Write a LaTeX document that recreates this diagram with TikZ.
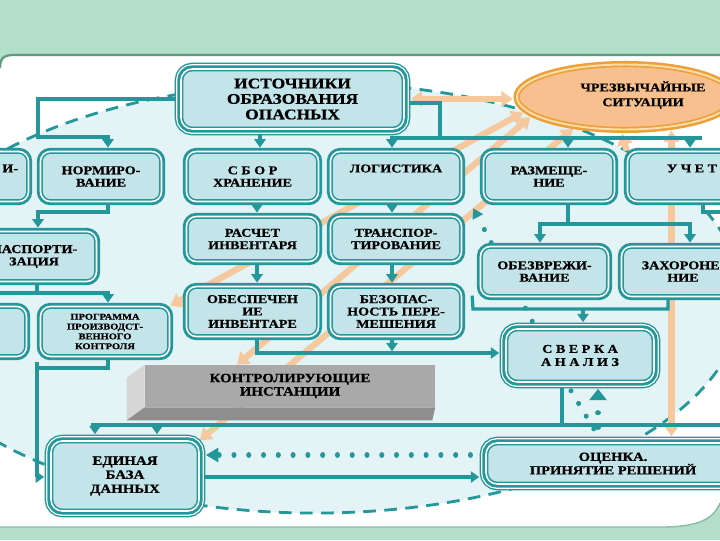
\documentclass[tikz,border=0pt]{standalone}
\usepackage{fontspec}
\setmainfont{Liberation Serif}
\newfontfamily\wf{Liberation Serif Bold}[FakeStretch=1.18, FakeBold=0.8]
\usetikzlibrary{shapes.geometric,arrows.meta,calc}
\pgfdeclarelayer{bg}
\pgfdeclarelayer{mid}
\pgfsetlayers{bg,mid,main}
\definecolor{teal0}{HTML}{23979A}
\definecolor{boxfill}{HTML}{C3E4E9}
\definecolor{bgblue}{HTML}{E4F3F5}
\definecolor{band}{HTML}{B3DEC9}
\definecolor{bandline}{HTML}{5E9A82}
\definecolor{peach}{HTML}{F6C89E}
\definecolor{ellfill}{HTML}{F8C08E}
\definecolor{ellline}{HTML}{EDA03A}
\definecolor{ellring}{HTML}{FBDDA8}
\definecolor{greyF}{HTML}{A9A9A9}
\definecolor{greyL}{HTML}{D6D6D6}
\definecolor{greyB}{HTML}{8E8E8E}
\tikzset{
  sz/.style 2 args={minimum width=#1*0.025cm, minimum height=#2*0.025cm},
  tl/.style={draw=teal0, line width=2.3pt, line cap=rect},
  tarr/.style={draw=teal0, line width=2.3pt, -{Triangle[width=8pt,length=6pt]}, shorten >=2.2pt},
  tarrb/.style={tarr, shorten >=4.3pt},
  boxst/.style={rounded corners=7pt, fill=boxfill, draw=teal0, line width=1.1pt,
    double=white, double distance=1.1pt, preaction={draw=teal0, line width=5.2pt},
    font=\wf\fontsize{8.5}{8.8}\selectfont, align=center, inner sep=0pt, text=black},
  bigbox/.style={rounded corners=8pt, fill=boxfill, draw=teal0, line width=1.1pt,
    double=white, double distance=1.1pt,
    preaction={draw=teal0, line width=9pt}, preaction={draw=white, line width=7pt},
    preaction={draw=teal0, line width=5.2pt},
    font=\wf\fontsize{8.8}{9.6}\selectfont, align=center, inner sep=0pt, text=black},
  orng/.style={draw=peach, line width=4.5pt, {Triangle[width=11pt,length=8pt]}-{Triangle[width=11pt,length=8pt]}},
  orng1/.style={draw=peach, line width=4.5pt, -{Triangle[width=11pt,length=8pt]}},
  dotl/.style={draw=teal0, line width=3.6pt, line cap=round, dash pattern=on 0.01pt off 10.5pt},
  dsh/.style={draw=teal0, line width=2pt, dash pattern=on 9pt off 6pt},
}
\begin{document}
\begin{tikzpicture}[x=0.025cm, y=-0.025cm]
\useasboundingbox (0,0) rectangle (720,540);

% ---------- nodes ----------
\node[bigbox, sz={223}{60}, font=\wf\fontsize{10.5}{11}\selectfont] (ist) at (292.5,99) {ИСТОЧНИКИ\\ОБРАЗОВАНИЯ\\ОПАСНЫХ};
\node[ellipse, minimum width=5.4cm, minimum height=1.625cm, fill=ellfill, draw=ellline, line width=1.2pt,
  double=ellring, double distance=1.4pt, preaction={draw=ellline, line width=5pt}, inner sep=0pt] (cs) at (625,97) {};
\node[font=\wf\fontsize{8.5}{10.5}\selectfont, align=center, inner sep=0pt, text=black] (cst) at (643,95) {ЧРЕЗВЫЧАЙНЫЕ\\СИТУАЦИИ};

\node[boxst, sz={125}{50}, text width=2.6cm, align=right] (izl) at (-34,176.5) {И-\\\strut};
\node[boxst, sz={121}{50}] (norm) at (101,176.5) {НОРМИРО-\\ВАНИЕ};
\node[boxst, sz={132}{50}] (sbor) at (252.5,176.5) {С Б О Р\\ХРАНЕНИЕ};
\node[boxst, sz={131}{50}] (logi) at (396,176.5) {ЛОГИСТИКА\\\strut};
\node[boxst, sz={131}{50}] (razm) at (549,176.5) {РАЗМЕЩЕ-\\НИЕ};
\node[boxst, sz={129}{50}] (uchet) at (692,176.5) {У Ч Е Т\\\strut};

\node[boxst, sz={125}{50}] (pasp) at (34,256.5) {ПАСПОРТИ-\\ЗАЦИЯ};
\node[boxst, sz={132}{45}] (rasch) at (252.5,239) {РАСЧЕТ\\ИНВЕНТАРЯ};
\node[boxst, sz={131}{45}] (trans) at (396,239) {ТРАНСПОР-\\ТИРОВАНИЕ};
\node[boxst, sz={128}{50}] (obez) at (544.5,271.5) {ОБЕЗВРЕЖИ-\\ВАНИЕ};
\node[boxst, sz={123}{50}] (zah) at (683,271.5) {ЗАХОРОНЕ-\\НИЕ};

\node[boxst, sz={123}{50}] (lbot) at (-35,331.5) {};
\node[boxst, sz={129}{50}, font=\wf\fontsize{6.3}{7}\selectfont] (prog) at (105,331.5) {ПРОГРАММА\\ПРОИЗВОДСТ-\\ВЕННОГО\\КОНТРОЛЯ};
\node[boxst, sz={132}{50}] (obesp) at (252.5,311.5) {ОБЕСПЕЧЕН\\ИЕ\\ИНВЕНТАРЕ};
\node[boxst, sz={131}{50}] (bezop) at (396,311.5) {БЕЗОПАС-\\НОСТЬ ПЕРЕ-\\МЕШЕНИЯ};
\node[bigbox, sz={148}{53}, font=\wf\fontsize{8.5}{9.3}\selectfont] (sverka) at (580,355.5) {С В Е Р К А\\А Н А Л И З};

\node[fill=greyF, sz={290}{42}, inner sep=0pt, align=center, text=black,
  font=\wf\fontsize{9}{9.5}\selectfont] (ctrl) at (290,386) {КОНТРОЛИРУЮЩИЕ\\ИНСТАНЦИИ};
\fill[greyL] (ctrl.north west) -- ++(-18,13) -- ($(ctrl.south west)+(-18,13)$) -- (ctrl.south west) -- cycle;
\fill[greyB] (ctrl.south west) -- ++(-18,13) -- ($(ctrl.south east)+(-3,13)$) -- (ctrl.south east) -- cycle;

\node[bigbox, sz={148}{70}, font=\wf\fontsize{9}{10}\selectfont] (edin) at (125,476) {ЕДИНАЯ\\БАЗА\\ДАННЫХ};
\node[bigbox, sz={254}{41}] (ocen) at (613,463.5) {ОЦЕНКА.\\ПРИНЯТИЕ РЕШЕНИЙ};

% ---------- background ----------
\begin{pgfonlayer}{bg}
\fill[white] (0,0) rectangle (720,540);
\fill[bgblue] (315,298) ellipse [x radius=10.675cm, y radius=5.375cm];
\draw[dsh] (315,298) ellipse [x radius=10.675cm, y radius=5.375cm];
\fill[band] (0,0) -- (720,0) -- (720,55) -- (14,55) .. controls (4,55) and (0,58) .. (0,68) -- cycle;
\draw[bandline, line width=1.6pt] (0,68) .. controls (0,58) and (4,55) .. (14,55) -- (720,55);
\fill[band] (0,540) -- (0,527) -- (662,527) .. controls (700,527) and (714,518) .. (720,503) -- (720,540) -- cycle;
\draw[bandline!50!band, line width=1pt] (0,527) -- (662,527) .. controls (700,527) and (714,518) .. (720,503);
\end{pgfonlayer}

% ---------- connectors ----------
\begin{pgfonlayer}{mid}
% orange links with the emergency ellipse
\draw[orng, shorten <=4.3pt, shorten >=2.5pt] (ist.east) -- (ist.east -| cs.west);
\draw[orng, shorten <=2.5pt] (cs.188) -- (prog.north east);
\draw[orng, shorten <=2.5pt] (cs.191) -- (237,0 |- ctrl.north);
\draw[orng, shorten <=2.5pt] (cs.211) -- (edin.north east);
\draw[orng, shorten <=2.5pt, shorten >=4.3pt] (cs.327) -- (cs.327 |- ocen.north);
\draw[orng1, shorten >=2.5pt] (uchet.north west) -- (cs.263);

% teal solid connectors
\draw[tl] (ist.west) -| (38,137) -- (108,137);
\draw[tarr] (108,137) -- (108,0 |- norm.north);
\draw[tarr] (260,0 |- ist.south) -- (260,0 |- sbor.north);
\draw[tl] (ist.east |- 0,103) -| (440,138);
\draw[tl] (392,138) -- (700,138);
\draw[tarr] (392,138) -- (392,0 |- logi.north);
\draw[tarr] (568,138) -- (568,0 |- razm.north);
\draw[tarr] (690,138) -- (690,0 |- uchet.north);

\draw[tarr] (257,0 |- sbor.south) -- (257,0 |- rasch.north);
\draw[tarr] (392,0 |- logi.south) -- (392,0 |- trans.north);
\draw[tarr] (257,0 |- rasch.south) -- (257,0 |- obesp.north);
\draw[tarr] (392,0 |- trans.south) -- (392,0 |- bezop.north);

\draw[tl] (108,0 |- norm.south) -- (108,212) -- (38,212);
\draw[tarr] (38,212) -- (38,0 |- pasp.north);
\draw[tl] (37,0 |- pasp.south) -- (37,293);
\draw[tl] (-5,293) -- (108,293);
\draw[tarr] (108,293) -- (108,0 |- prog.north);
\draw[tl] (108,0 |- prog.south) -- (108,368) -- (37,368);
\draw[tarrb] (37,362) -- (37,477) -- (edin.west |- 0,477);

\draw[tl] (257,0 |- obesp.south) -- (257,353);
\draw[tarrb] (257,353) -- (sverka.west |- 0,353);
\draw[tarr, shorten >=0.5pt] (392,0 |- bezop.south) -- (392,352);

\draw[tl] (568,0 |- razm.south) -- (568,224);
\draw[tl] (540,224) -- (690,224);
\draw[tarr] (540,224) -- (540,0 |- obez.north);
\draw[tarr] (690,224) -- (690,0 |- zah.north);
\draw[tl] (703,0 |- uchet.south) -- (703,212) -- (725,212);

\draw[tl] ($(obez.south west)+(-7.5,0)$) -- (473,309) -| (668,0 |- zah.south);
\draw[tarrb] (583,309) -- (583,0 |- sverka.north);

\draw[tl] (562,0 |- sverka.south) -- (562,425);
\draw[tl] (93,425) -- (725,425);
\draw[tarrb] (95,425) -- (95,0 |- edin.north);
\draw[tarrb] (157,425) -- (157,0 |- edin.north);

\draw[tarrb] (edin.east |- 0,477) -- (ocen.west |- 0,477);

% teal dotted connectors
\draw[dotl, -{Triangle[width=10pt,length=9pt]}, shorten >=4.3pt] (ocen.west |- 0,455) -- (edin.east |- 0,455);
\draw[dotl, -{Triangle[width=12pt,length=8pt]}, shorten >=4.3pt] (598,0 |- ocen.north) -- (598,0 |- sverka.south);
\draw[dotl] ($(571,0 |- sverka.south)+(0,8)$) -- ($(597,0 |- ocen.north)+(0,-8)$);
\draw[dotl, -{Triangle[width=8pt,length=7pt]}] ($(sverka.north west)+(27,-7)$) -- ($(logi.south east)+(11,6)$);
\end{pgfonlayer}
\end{tikzpicture}
\end{document}
